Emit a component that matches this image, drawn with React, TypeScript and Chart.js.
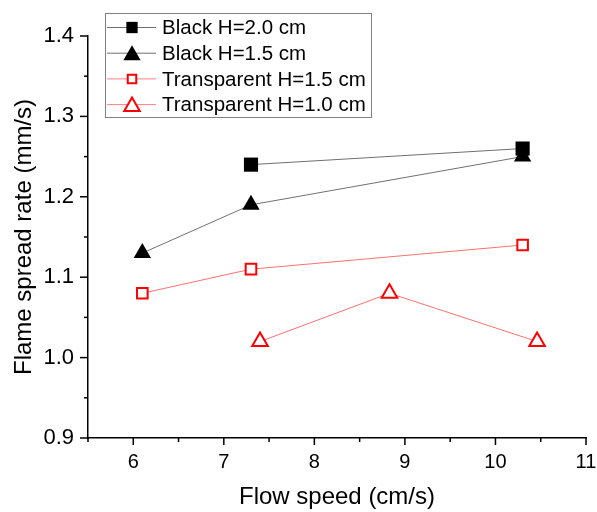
import React, { useEffect, useRef } from "react";
import { Chart, registerables } from "chart.js";

Chart.register(...registerables);

const seriesLabels = [
  "Black H=2.0 cm",
  "Black H=1.5 cm",
  "Transparent H=1.5 cm",
  "Transparent H=1.0 cm",
];
const blackH20X = [7.3, 10.3];
const blackH20Y = [1.24, 1.26];
const blackH15X = [6.1, 7.3, 10.3];
const blackH15Y = [1.13, 1.19, 1.25];
const transH15X = [6.1, 7.3, 10.3];
const transH15Y = [1.08, 1.11, 1.14];
const transH10X = [7.4, 8.83, 10.46];
const transH10Y = [1.02, 1.08, 1.02];

const xTickValues = [6, 7, 8, 9, 10, 11];
const yTickValues = [0.9, 1.0, 1.1, 1.2, 1.3, 1.4];

const FONT = "'Liberation Sans', Arial, sans-serif";

const toPts = (xs: number[], ys: number[]) => xs.map((x, i) => ({ x, y: ys[i] }));

function drawMarker(
  ctx: CanvasRenderingContext2D,
  kind: string,
  x: number,
  y: number,
  r: number,
  fill: string,
  stroke: string,
  lw: number
) {
  ctx.save();
  ctx.beginPath();
  if (kind === "rect") {
    const s = r * Math.SQRT1_2;
    ctx.rect(x - s, y - s, 2 * s, 2 * s);
  } else {
    const w = r * Math.sin(Math.PI / 3);
    ctx.moveTo(x, y - r);
    ctx.lineTo(x + w, y + r / 2);
    ctx.lineTo(x - w, y + r / 2);
    ctx.closePath();
  }
  ctx.fillStyle = fill;
  ctx.fill();
  if (lw > 0) {
    ctx.lineWidth = lw;
    ctx.strokeStyle = stroke;
    ctx.stroke();
  }
  ctx.restore();
}

const ticksPlugin = {
  id: "minorTicks",
  afterDraw(chart: any) {
    const ctx = chart.ctx as CanvasRenderingContext2D;
    const xs = chart.scales.x;
    const ys = chart.scales.y;
    const area = chart.chartArea;
    ctx.save();
    ctx.strokeStyle = "#000";
    ctx.lineWidth = 1.5;
    for (let v = 5.5; v <= 11.0001; v += 0.5) {
      const major = Math.abs(v - Math.round(v)) < 1e-6;
      const px = xs.getPixelForValue(v);
      ctx.beginPath();
      ctx.moveTo(px, area.bottom);
      ctx.lineTo(px, area.bottom + (major ? 7 : 4));
      ctx.stroke();
    }
    for (let v = 0.9; v <= 1.4001; v += 0.05) {
      const major = Math.abs(v * 10 - Math.round(v * 10)) < 1e-6;
      const py = ys.getPixelForValue(v);
      ctx.beginPath();
      ctx.moveTo(area.left, py);
      ctx.lineTo(area.left - (major ? 8 : 4), py);
      ctx.stroke();
    }
    ctx.restore();
  },
};

const legendPlugin = {
  id: "customLegend",
  afterDraw(chart: any) {
    const ctx = chart.ctx as CanvasRenderingContext2D;
    ctx.save();
    ctx.strokeStyle = "#808080";
    ctx.lineWidth = 1;
    ctx.strokeRect(105.5, 13.5, 266, 104);
    const kinds = [
      { m: "rect", fill: "#000", stroke: "#000", lw: 0, r: 8, line: "#707070" },
      { m: "triangle", fill: "#000", stroke: "#000", lw: 0, r: 10, line: "#707070" },
      { m: "rect", fill: "#fff", stroke: "#ff0000", lw: 2, r: 6, line: "#ff8080" },
      { m: "triangle", fill: "#fff", stroke: "#ff0000", lw: 2, r: 9, line: "#ff8080" },
    ];
    chart.data.datasets.forEach((ds: any, i: number) => {
      const k = kinds[i];
      const cy = 27.5 + i * 25.7;
      const cyM = k.m === "triangle" ? cy + 2 : cy;
      ctx.beginPath();
      ctx.strokeStyle = k.line;
      ctx.lineWidth = 1;
      ctx.moveTo(107, cy);
      ctx.lineTo(156, cy);
      ctx.stroke();
      drawMarker(ctx, k.m, 132, cyM, k.r, k.fill, k.stroke, k.lw);
      ctx.fillStyle = "#000";
      ctx.font = `20.5px ${FONT}`;
      ctx.textBaseline = "middle";
      ctx.textAlign = "left";
      ctx.fillText(ds.label, 162, cy + 1);
    });
    ctx.restore();
  },
};

export default function App() {
  const ref = useRef<HTMLCanvasElement | null>(null);
  useEffect(() => {
    document.body.style.margin = "0";
    if (!ref.current) return;
    const chart = new Chart(ref.current, {
      type: "scatter",
      data: {
        datasets: [
          {
            label: seriesLabels[0],
            data: toPts(blackH20X, blackH20Y),
            showLine: true,
            borderColor: "#707070",
            borderWidth: 1,
            pointStyle: "rect",
            pointRadius: 10,
            pointBackgroundColor: "#000",
            pointBorderColor: "#000",
            pointBorderWidth: 0,
          },
          {
            label: seriesLabels[1],
            data: toPts(blackH15X, blackH15Y),
            showLine: true,
            borderColor: "#707070",
            borderWidth: 1,
            pointStyle: "triangle",
            pointRadius: 10,
            pointBackgroundColor: "#000",
            pointBorderColor: "#000",
            pointBorderWidth: 0,
          },
          {
            label: seriesLabels[2],
            data: toPts(transH15X, transH15Y),
            showLine: true,
            borderColor: "#ff7070",
            borderWidth: 1,
            pointStyle: "rect",
            pointRadius: 7.5,
            pointBackgroundColor: "#fff",
            pointBorderColor: "#ff0000",
            pointBorderWidth: 2,
          },
          {
            label: seriesLabels[3],
            data: toPts(transH10X, transH10Y),
            showLine: true,
            borderColor: "#ff7070",
            borderWidth: 1,
            pointStyle: "triangle",
            pointRadius: 9,
            pointBackgroundColor: "#fff",
            pointBorderColor: "#ff0000",
            pointBorderWidth: 2,
          },
        ],
      },
      options: {
        animation: false,
        responsive: false,
        events: [],
        layout: { padding: { left: 0, right: 11, top: 36, bottom: 0 } },
        plugins: { legend: { display: false }, tooltip: { enabled: false } },
        scales: {
          x: {
            type: "linear",
            min: 5.5,
            max: 11,
            afterBuildTicks: (s: any) => {
              s.ticks = xTickValues.map((v) => ({ value: v }));
            },
            afterFit: (s: any) => {
              s.height = 74;
              s.paddingRight = 0;
              s.paddingLeft = 0;
            },
            grid: { display: false, drawTicks: false },
            border: { display: true, color: "#000", width: 1.5 },
            ticks: {
              color: "#000",
              font: { family: FONT, size: 20 },
              padding: 12,
              maxRotation: 0,
              callback: (v: any) => String(v),
            },
            title: {
              display: true,
              text: "Flow speed (cm/s)",
              color: "#000",
              font: { family: FONT, size: 24 },
              padding: { top: 0, bottom: 0 },
            },
          },
          y: {
            type: "linear",
            min: 0.9,
            max: 1.4,
            afterBuildTicks: (s: any) => {
              s.ticks = yTickValues.map((v) => ({ value: v }));
            },
            afterFit: (s: any) => {
              s.width = 88;
              s.paddingTop = 0;
              s.paddingBottom = 0;
            },
            grid: { display: false, drawTicks: false },
            border: { display: true, color: "#000", width: 1.5 },
            ticks: {
              color: "#000",
              font: { family: FONT, size: 22 },
              padding: 14,
              callback: (v: any) => Number(v).toFixed(1),
            },
            title: {
              display: true,
              text: "Flame spread rate (mm/s)",
              color: "#000",
              font: { family: FONT, size: 24 },
              padding: { top: 10, bottom: 0 },
            },
          },
        },
      },
      plugins: [ticksPlugin, legendPlugin],
    } as any);
    return () => chart.destroy();
  }, []);
  return <canvas ref={ref} width={597} height={512} style={{ display: "block" }} />;
}
